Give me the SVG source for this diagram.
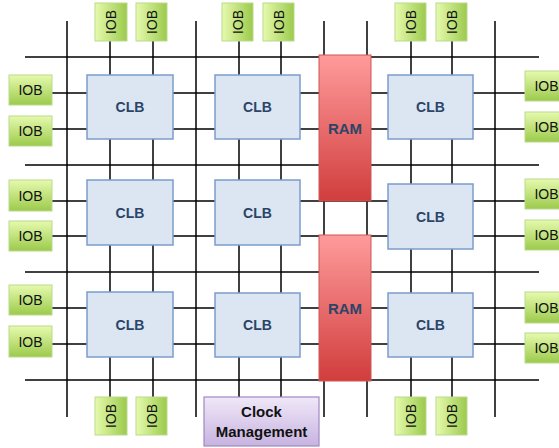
<svg xmlns="http://www.w3.org/2000/svg" width="559" height="448" viewBox="0 0 559 448">
<defs>
<linearGradient id="gIobV" x1="0" y1="0" x2="0" y2="1"><stop offset="0" stop-color="#E6FAAE"/><stop offset="1" stop-color="#9CCA4C"/></linearGradient>
<linearGradient id="gIobH" x1="0" y1="0" x2="1" y2="0"><stop offset="0" stop-color="#E6FAAE"/><stop offset="1" stop-color="#9CCA4C"/></linearGradient>
<linearGradient id="gRam" x1="0" y1="0" x2="0" y2="1"><stop offset="0" stop-color="#FF9B9B"/><stop offset="1" stop-color="#D13D3D"/></linearGradient>
<linearGradient id="gClk" x1="0" y1="0" x2="0" y2="1"><stop offset="0" stop-color="#F0E8F8"/><stop offset="1" stop-color="#C7B3E0"/></linearGradient>
</defs>
<style>
.grid line,.conn line{stroke:#000;stroke-width:1.5}
.iob rect{stroke:#B9DB8C;stroke-width:1}
.iob text{font-family:"Liberation Sans",Arial,sans-serif;font-size:14px;fill:#111;text-anchor:middle}
.clb rect{fill:#DCE6F2;stroke:#7B9CCB;stroke-width:1.5}
.clb text{font-family:"Liberation Sans",Arial,sans-serif;font-size:14px;font-weight:bold;fill:#2B4468;text-anchor:middle}
.ram rect{fill:url(#gRam);stroke:#CB5656;stroke-width:1}
.ram text{font-family:"Liberation Sans",Arial,sans-serif;font-size:15px;font-weight:bold;fill:#2B4468;text-anchor:middle}
.clk rect{fill:url(#gClk);stroke:#A088C4;stroke-width:1.2}
.clk text{font-family:"Liberation Sans",Arial,sans-serif;font-size:15px;font-weight:bold;fill:#111;text-anchor:middle}
</style>
<rect width="559" height="448" fill="#fff"/>
<g id="connectors">
<g class="grid">
<line x1="67" y1="21" x2="67" y2="417"/>
<line x1="196" y1="21" x2="196" y2="417"/>
<line x1="324" y1="21" x2="324" y2="417"/>
<line x1="367" y1="21" x2="367" y2="417"/>
<line x1="495" y1="21" x2="495" y2="417"/>
<line x1="25" y1="57" x2="539" y2="57"/>
<line x1="25" y1="165" x2="539" y2="165"/>
<line x1="25" y1="272" x2="539" y2="272"/>
<line x1="25" y1="380" x2="539" y2="380"/>
</g>
<g class="conn">
<line x1="110" y1="41" x2="110" y2="397"/>
<line x1="153" y1="41" x2="153" y2="397"/>
<line x1="239" y1="41" x2="239" y2="397"/>
<line x1="281" y1="41" x2="281" y2="397"/>
<line x1="411" y1="41" x2="411" y2="397"/>
<line x1="452" y1="41" x2="452" y2="397"/>
<line x1="52" y1="93" x2="525" y2="93"/>
<line x1="52" y1="129" x2="525" y2="129"/>
<line x1="52" y1="201" x2="525" y2="201"/>
<line x1="52" y1="236" x2="525" y2="236"/>
<line x1="52" y1="308" x2="525" y2="308"/>
<line x1="52" y1="344" x2="525" y2="344"/>
</g>
</g>
<g id="iob-top-1" class="iob"><rect x="95" y="3" width="32" height="38" fill="url(#gIobH)"/><text transform="translate(116,22) rotate(-90)">IOB</text></g>
<g id="iob-top-2" class="iob"><rect x="136" y="3" width="31" height="38" fill="url(#gIobH)"/><text transform="translate(156.5,22) rotate(-90)">IOB</text></g>
<g id="iob-top-3" class="iob"><rect x="222" y="3" width="31" height="38" fill="url(#gIobH)"/><text transform="translate(242.5,22) rotate(-90)">IOB</text></g>
<g id="iob-top-4" class="iob"><rect x="263" y="3" width="31" height="38" fill="url(#gIobH)"/><text transform="translate(283.5,22) rotate(-90)">IOB</text></g>
<g id="iob-top-5" class="iob"><rect x="395" y="3" width="31" height="38" fill="url(#gIobH)"/><text transform="translate(415.5,22) rotate(-90)">IOB</text></g>
<g id="iob-top-6" class="iob"><rect x="436" y="3" width="31" height="38" fill="url(#gIobH)"/><text transform="translate(456.5,22) rotate(-90)">IOB</text></g>
<g id="iob-bot-1" class="iob"><rect x="95" y="397" width="32" height="38" fill="url(#gIobH)"/><text transform="translate(116,416) rotate(-90)">IOB</text></g>
<g id="iob-bot-2" class="iob"><rect x="136" y="397" width="31" height="38" fill="url(#gIobH)"/><text transform="translate(156.5,416) rotate(-90)">IOB</text></g>
<g id="iob-bot-3" class="iob"><rect x="395" y="397" width="31" height="38" fill="url(#gIobH)"/><text transform="translate(415.5,416) rotate(-90)">IOB</text></g>
<g id="iob-bot-4" class="iob"><rect x="436" y="397" width="31" height="38" fill="url(#gIobH)"/><text transform="translate(456.5,416) rotate(-90)">IOB</text></g>
<g id="iob-left-1" class="iob"><rect x="9" y="75" width="43" height="30" fill="url(#gIobV)"/><text x="30.5" y="95">IOB</text></g>
<g id="iob-left-2" class="iob"><rect x="9" y="116" width="43" height="30" fill="url(#gIobV)"/><text x="30.5" y="136">IOB</text></g>
<g id="iob-left-3" class="iob"><rect x="9" y="180" width="43" height="31" fill="url(#gIobV)"/><text x="30.5" y="200.5">IOB</text></g>
<g id="iob-left-4" class="iob"><rect x="9" y="221" width="43" height="30" fill="url(#gIobV)"/><text x="30.5" y="241">IOB</text></g>
<g id="iob-left-5" class="iob"><rect x="9" y="285" width="43" height="30" fill="url(#gIobV)"/><text x="30.5" y="305">IOB</text></g>
<g id="iob-left-6" class="iob"><rect x="9" y="326" width="43" height="31" fill="url(#gIobV)"/><text x="30.5" y="346.5">IOB</text></g>
<g id="iob-right-1" class="iob"><rect x="525" y="71" width="43" height="30" fill="url(#gIobV)"/><text x="546.5" y="91">IOB</text></g>
<g id="iob-right-2" class="iob"><rect x="525" y="112" width="43" height="30" fill="url(#gIobV)"/><text x="546.5" y="132">IOB</text></g>
<g id="iob-right-3" class="iob"><rect x="525" y="179" width="43" height="30" fill="url(#gIobV)"/><text x="546.5" y="199">IOB</text></g>
<g id="iob-right-4" class="iob"><rect x="525" y="220" width="43" height="30" fill="url(#gIobV)"/><text x="546.5" y="240">IOB</text></g>
<g id="iob-right-5" class="iob"><rect x="525" y="292" width="43" height="31" fill="url(#gIobV)"/><text x="546.5" y="312.5">IOB</text></g>
<g id="iob-right-6" class="iob"><rect x="525" y="333" width="43" height="30" fill="url(#gIobV)"/><text x="546.5" y="353">IOB</text></g>
<g id="clb-1-1" class="clb"><rect x="87" y="75" width="86" height="64"/><text x="130" y="112">CLB</text></g>
<g id="clb-1-2" class="clb"><rect x="215" y="75" width="85" height="64"/><text x="257.5" y="112">CLB</text></g>
<g id="clb-1-3" class="clb"><rect x="388" y="75" width="85" height="64"/><text x="430.5" y="112">CLB</text></g>
<g id="clb-2-1" class="clb"><rect x="87" y="180" width="86" height="65"/><text x="130" y="218">CLB</text></g>
<g id="clb-2-2" class="clb"><rect x="215" y="180" width="85" height="65"/><text x="257.5" y="218">CLB</text></g>
<g id="clb-2-3" class="clb"><rect x="388" y="184" width="85" height="65"/><text x="430.5" y="222">CLB</text></g>
<g id="clb-3-1" class="clb"><rect x="87" y="292" width="86" height="65"/><text x="130" y="330">CLB</text></g>
<g id="clb-3-2" class="clb"><rect x="215" y="293" width="85" height="64"/><text x="257.5" y="330">CLB</text></g>
<g id="clb-3-3" class="clb"><rect x="388" y="293" width="85" height="64"/><text x="430.5" y="330">CLB</text></g>
<g id="ram-1" class="ram"><rect x="319" y="55" width="52" height="146"/><text x="345" y="134">RAM</text></g>
<g id="ram-2" class="ram"><rect x="319" y="235" width="52" height="146"/><text x="345" y="314">RAM</text></g>
<g id="clock-management" class="clk"><rect x="204" y="397" width="115" height="49"/><text x="261.5" y="417">Clock</text><text x="261.5" y="437">Management</text></g>
</svg>
